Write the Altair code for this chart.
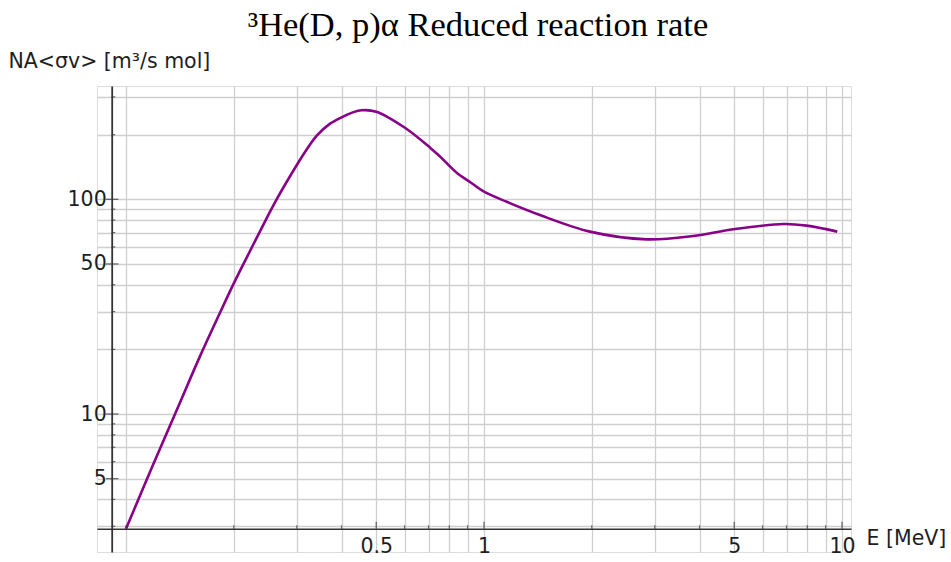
import altair as alt
import pandas as pd

# ---- data ----
E_MEV = [0.1, 0.119, 0.1385, 0.161, 0.183, 0.2, 0.2244, 0.247, 0.2635, 0.3, 0.32,
         0.341, 0.37, 0.4, 0.43, 0.455, 0.5, 0.6, 0.707, 0.754, 0.839, 0.92, 1.0,
         1.157, 1.433, 1.977, 2.85, 3.84, 4.97, 6.86, 7.96, 9.7]
RATE = [2.92, 5.8, 10.4, 18.6, 29.6, 40.6, 59.5, 81.5, 100, 144.5, 171,
        198, 224, 241, 254, 260, 256, 216, 174, 158, 133, 119.5, 108.5,
        97.4, 84.5, 70.7, 65.1, 67.5, 72.5, 76.7, 75.4, 70.7]

X_GRID = [0.1, 0.2, 0.3, 0.4, 0.5, 0.6, 0.7, 0.8, 0.9, 1, 2, 3, 4, 5, 6, 7, 8, 9, 10]
Y_GRID = [3, 4, 5, 6, 7, 8, 9, 10, 20, 30, 40, 50, 60, 70, 80, 90, 100, 200, 300]
X_LABELS = [0.5, 1, 5, 10]
Y_LABELS = [5, 10, 50, 100]
X_MINOR = [v for v in X_GRID if v not in X_LABELS]
Y_MINOR = [v for v in Y_GRID if v not in Y_LABELS]

X_DOMAIN = [0.08298, 10.596]
Y_DOMAIN = [2.2766, 337.1]
X_AXIS_AT = 0.0912   # where the y axis crosses
Y_AXIS_AT = 2.92     # where the x axis crosses

TITLE = "³He(D, p)α Reduced reaction rate"
X_TITLE = "E [MeV]"
Y_TITLE = "NA<σv> [m³/s mol]"

FONT = "DejaVu Sans"
AXIS_COLOR = "#333333"
GRID_COLOR = "#cfcfcf"
TEXT_COLOR = "#1e1e1e"

curve = pd.DataFrame({"E": E_MEV, "rate": RATE})

x_scale = alt.Scale(type="log", domain=X_DOMAIN, nice=False)
y_scale = alt.Scale(type="log", domain=Y_DOMAIN, nice=False)


def label_expr(vals):
    arr = "[" + ",".join(str(v) for v in vals) + "]"
    return f"indexof({arr}, datum.value) >= 0 ? format(datum.value, '~g') : ''"


x_axis = alt.Axis(
    values=X_GRID, labelExpr=label_expr(X_LABELS), grid=True,
    gridColor=GRID_COLOR, gridWidth=1.3, domainColor=AXIS_COLOR, domainWidth=1.6,
    offset=-23.3, ticks=False, tickSize=0, labelFont=FONT, labelFontSize=20.5,
    labelColor=TEXT_COLOR, labelPadding=8, labelOverlap=False, labelFlush=False,
    title=X_TITLE, titleX=769, titleY=16, titleAlign="left",
    titleBaseline="alphabetic", titleFont=FONT, titleFontSize=20.5,
    titleFontWeight="normal", titleColor=TEXT_COLOR,
)
y_axis = alt.Axis(
    values=Y_GRID, labelExpr=label_expr(Y_LABELS), grid=True,
    gridColor=GRID_COLOR, gridWidth=1.3, domainColor=AXIS_COLOR, domainWidth=1.8,
    offset=-14.7, ticks=False, tickSize=0, labelFont=FONT, labelFontSize=20.5,
    labelColor=TEXT_COLOR, labelPadding=5.5, labelOverlap=False, labelFlush=False,
    title=Y_TITLE, titleAngle=0, titleX=-103.7, titleY=-19, titleAlign="left",
    titleBaseline="alphabetic", titleFont=FONT, titleFontSize=20.5,
    titleFontWeight="normal", titleColor=TEXT_COLOR,
)


def enc(ch):
    return ch.encode(
        x=alt.X("E:Q", scale=x_scale, axis=x_axis),
        y=alt.Y("rate:Q", scale=y_scale, axis=y_axis),
    )


line = enc(alt.Chart(curve).mark_line(color="#880088", strokeWidth=2.6,
                                       interpolate="catmull-rom"))

xt_major = enc(alt.Chart(pd.DataFrame({"E": X_LABELS, "rate": [Y_AXIS_AT] * len(X_LABELS)}))
               .mark_tick(orient="vertical", color=AXIS_COLOR, thickness=1.3, size=7, yOffset=-3.5))
xt_minor = enc(alt.Chart(pd.DataFrame({"E": X_MINOR, "rate": [Y_AXIS_AT] * len(X_MINOR)}))
               .mark_tick(orient="vertical", color=AXIS_COLOR, thickness=1.2, size=3.5, yOffset=-1.75))
yt_major = enc(alt.Chart(pd.DataFrame({"E": [X_AXIS_AT] * len(Y_LABELS), "rate": Y_LABELS}))
               .mark_tick(orient="horizontal", color=AXIS_COLOR, thickness=1.3, size=12.5, xOffset=0.5))
yt_minor = enc(alt.Chart(pd.DataFrame({"E": [X_AXIS_AT] * len(Y_MINOR), "rate": Y_MINOR}))
               .mark_tick(orient="horizontal", color=AXIS_COLOR, thickness=1.2, size=3.6, xOffset=1.8))

chart = (
    alt.layer(line, xt_major, xt_minor, yt_major, yt_minor)
    .properties(
        width=754, height=466,
        autosize=alt.AutoSizeParams(type="none"),
        padding={"left": 97, "top": 86, "right": 100, "bottom": 10},
        title=alt.TitleParams(TITLE, font="Liberation Serif", fontSize=34.5,
                              fontWeight="normal", color="black", anchor="middle",
                              frame="group", offset=8, dx=4),
    )
    .configure_view(stroke="transparent")
    .configure(background="white")
)

chart.save("out.html", embed_options={"renderer": "svg", "actions": False})
